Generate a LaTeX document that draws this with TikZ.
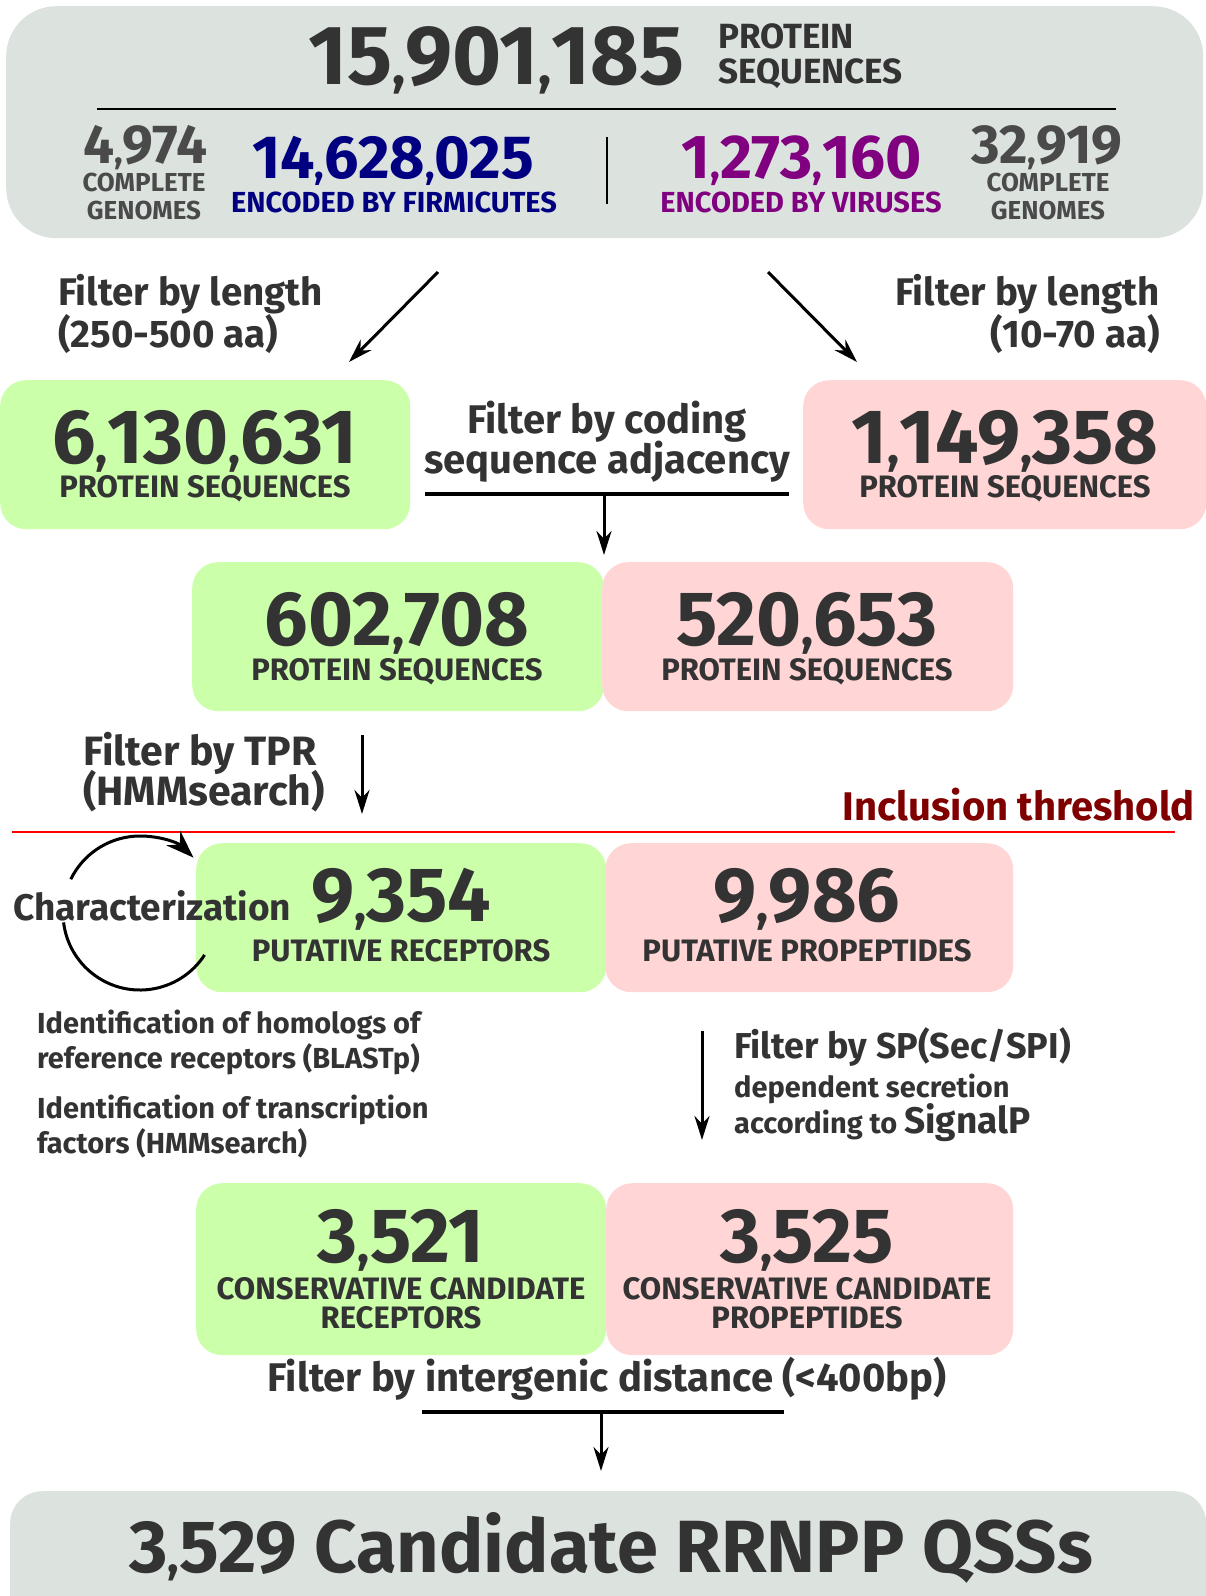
\documentclass[tikz,border=0pt]{standalone}
\usepackage{fontspec}
\setmainfont{Fira Sans}
\usetikzlibrary{arrows.meta}

\definecolor{boxgrey}{HTML}{DCE3DF}
\definecolor{boxgreen}{HTML}{CCFFAA}
\definecolor{boxpink}{HTML}{FFD5D5}
\definecolor{ink}{HTML}{333333}
\definecolor{inkgrey}{HTML}{4A4A4A}
\definecolor{firmblue}{HTML}{000080}
\definecolor{virpurple}{HTML}{800080}
\definecolor{threshred}{HTML}{800000}

\newcommand{\fsz}[1]{\fontsize{#1}{#1}\selectfont\bfseries}
\newcommand{\cma}{\smash{\scalebox{0.65}{,}}}

\begin{document}
\begin{tikzpicture}[x=1pt, y=-1pt, >={Stealth[length=24pt,width=15pt]},
    every node/.style={inner sep=0pt, text=ink},
    greybox/.style={fill=boxgrey, anchor=north west},
    greenbox/.style={fill=boxgreen, rounded corners=26pt, anchor=north west},
    pinkbox/.style={fill=boxpink, rounded corners=26pt, anchor=north west},
    bignum/.style={anchor=base, font=\fsz{77}},
    caps/.style={anchor=base, font=\fsz{31}},
    filt/.style={anchor=base, font=\fsz{40}},
    note/.style={anchor=base west, font=\fsz{29}},
    flow/.style={->, line width=3pt}]
    \useasboundingbox (0,0) rectangle (1206,1596);

    % all sequences
    \node[greybox, rounded corners=50pt, minimum width=1197pt, minimum height=232pt] (total) at (6,6) {};
    \node[anchor=base west, font=\fsz{84}] (totaln) at (308,84) {15\cma901\cma185};
    \node[caps, anchor=base west, font=\fsz{35}] (totalt1) at (718,48) {PROTEIN};
    \node[caps, anchor=base west, font=\fsz{35}] (totalt2) at (718,83) {SEQUENCES};
    \draw[line width=2pt] (97,109) -- (1116,109);
    \node[anchor=base west, font=\fsz{55}, text=inkgrey] (firmg) at (83,163) {4\cma974};
    \node[caps, font=\fsz{26}, text=inkgrey] (firmg1) at (144,191) {COMPLETE};
    \node[caps, font=\fsz{26}, text=inkgrey] (firmg2) at (144,219) {GENOMES};
    \node[anchor=base, font=\fsz{61}, text=firmblue] (firmn) at (393,178) {14\cma628\cma025};
    \node[caps, font=\fsz{29}, text=firmblue] (firmt) at (394,212) {ENCODED BY FIRMICUTES};
    \draw[line width=1.5pt] (607,137) -- (607,204);
    \node[anchor=base, font=\fsz{62}, text=virpurple] (virn) at (802,178) {1\cma273\cma160};
    \node[caps, font=\fsz{29}, text=virpurple] (virt) at (801,212) {ENCODED BY VIRUSES};
    \node[anchor=base, font=\fsz{55}, text=inkgrey] (virg) at (1047,163) {32\cma919};
    \node[caps, font=\fsz{26}, text=inkgrey] (virg1) at (1048,191) {COMPLETE};
    \node[caps, font=\fsz{26}, text=inkgrey] (virg2) at (1048,219) {GENOMES};

    % length filter
    \coordinate (la0) at (438,272);
    \coordinate (la1) at (349,362);
    \coordinate (ra0) at (768,272);
    \coordinate (ra1) at (857,362);
    \draw[flow] (la0) -- (la1);
    \draw[flow] (ra0) -- (ra1);
    \node[filt, anchor=base west, font=\fsz{38.5}] (lenl1) at (58,305) {Filter by length};
    \node[filt, anchor=base west, font=\fsz{38.5}] (lenl2) at (58,347) {(250-500 aa)};
    \node[filt, anchor=base east, font=\fsz{38.5}] (lenr1) at (1160,305) {Filter by length};
    \node[filt, anchor=base east, font=\fsz{38.5}] (lenr2) at (1160,347) {(10-70 aa)};

    \node[greenbox, minimum width=410pt, minimum height=149pt] (lenA) at (0,380) {};
    \node[bignum] (lenAn) at (205,463) {6\cma130\cma631};
    \node[caps] (lenAt) at (205,497) {PROTEIN SEQUENCES};
    \node[pinkbox, minimum width=403pt, minimum height=149pt] (lenB) at (803,380) {};
    \node[bignum] (lenBn) at (1005,463) {1\cma149\cma358};
    \node[caps] (lenBt) at (1005,497) {PROTEIN SEQUENCES};

    % adjacency filter
    \node[filt] (adj1) at (607,433) {Filter by coding};
    \node[filt] (adj2) at (607,473) {sequence adjacency};
    \coordinate (adjL) at (425,494);
    \coordinate (adjR) at (789,494);
    \coordinate (adjM) at (604,494);
    \coordinate (adjE) at (604,555);
    \draw[line width=3.5pt] (adjL) -- (adjR);
    \draw[flow] (adjM) -- (adjE);

    \node[greenbox, minimum width=412pt, minimum height=149pt] (adjA) at (192,562) {};
    \node[bignum] (adjAn) at (397,645) {602\cma708};
    \node[caps] (adjAt) at (397,680) {PROTEIN SEQUENCES};
    \node[pinkbox, minimum width=411pt, minimum height=149pt] (adjB) at (602,562) {};
    \node[bignum] (adjBn) at (807,645) {520\cma653};
    \node[caps] (adjBt) at (807,680) {PROTEIN SEQUENCES};

    % TPR filter and threshold
    \node[filt, anchor=base west, font=\fsz{41}] (tpr1) at (83,765) {Filter by TPR};
    \node[filt, anchor=base west, font=\fsz{41}] (tpr2) at (83,805) {(HMMsearch)};
    \coordinate (tpr0) at (362,735);
    \coordinate (tprE) at (362,814);
    \draw[flow] (tpr0) -- (tprE);
    \draw[red, line width=1.5pt] (12,832) -- (1175,832);
    \node[filt, anchor=base east, font=\fsz{40}, text=threshred] (thr) at (1195,820) {Inclusion threshold};

    \node[greenbox, minimum width=410pt, minimum height=149pt] (putA) at (196,843) {};
    \node[bignum] (putAn) at (401,921) {9\cma354};
    \node[caps] (putAt) at (401,961) {PUTATIVE RECEPTORS};
    \node[pinkbox, minimum width=408pt, minimum height=149pt] (putB) at (605,843) {};
    \node[bignum] (putBn) at (807,921) {9\cma986};
    \node[caps] (putBt) at (807,961) {PUTATIVE PROPEPTIDES};

    % characterization loop
    \coordinate (loop) at (140,913);
    \draw[-{Stealth[length=28pt,width=20pt]}, line width=3pt] ([shift={(-154:77)}]loop) arc[start angle=-154, end angle=-46, radius=77];
    \draw[line width=3pt] ([shift={(173:77)}]loop) arc[start angle=173, end angle=33, radius=77];
    \node[filt, anchor=base west, font=\fsz{37}] (char) at (13,920) {Characterization};

    \node[note] (hom1) at (37,1033) {Identification of homologs of};
    \node[note] (hom2) at (37,1068) {reference receptors (BLASTp)};
    \node[note] (tf1) at (37,1118) {Identification of transcription};
    \node[note] (tf2) at (37,1153) {factors (HMMsearch)};

    % signal peptide filter
    \coordinate (sp0) at (702,1031);
    \coordinate (spE) at (702,1140);
    \draw[flow] (sp0) -- (spE);
    \node[note, font=\fsz{36}] (sp1) at (734,1058) {Filter by SP(Sec/SPI)};
    \node[note] (sp2) at (734,1097) {dependent secretion};
    \node[note] (sp3) at (734,1133) {according to {\fsz{37}SignalP}};

    \node[greenbox, minimum width=410pt, minimum height=172pt] (conA) at (196,1183) {};
    \node[bignum] (conAn) at (401,1262) {3\cma521};
    \node[caps] (conAt1) at (401,1299) {CONSERVATIVE CANDIDATE};
    \node[caps] (conAt2) at (401,1328) {RECEPTORS};
    \node[pinkbox, minimum width=407pt, minimum height=172pt] (conB) at (606,1183) {};
    \node[bignum] (conBn) at (807,1262) {3\cma525};
    \node[caps] (conBt1) at (807,1299) {CONSERVATIVE CANDIDATE};
    \node[caps] (conBt2) at (807,1328) {PROPEPTIDES};

    % distance filter
    \node[filt] (dist) at (607,1391) {Filter by intergenic distance (<400bp)};
    \coordinate (distL) at (422,1412);
    \coordinate (distR) at (784,1412);
    \coordinate (distM) at (601,1412);
    \coordinate (distE) at (601,1471);
    \draw[line width=3.5pt] (distL) -- (distR);
    \draw[flow] (distM) -- (distE);

    \node[greybox, rounded corners=32pt, minimum width=1196pt, minimum height=140pt] (final) at (10,1491) {};
    \node[anchor=base, font=\fsz{74}] (finalt) at (611,1572) {3\cma529 Candidate RRNPP QSSs};
\end{tikzpicture}
\end{document}
